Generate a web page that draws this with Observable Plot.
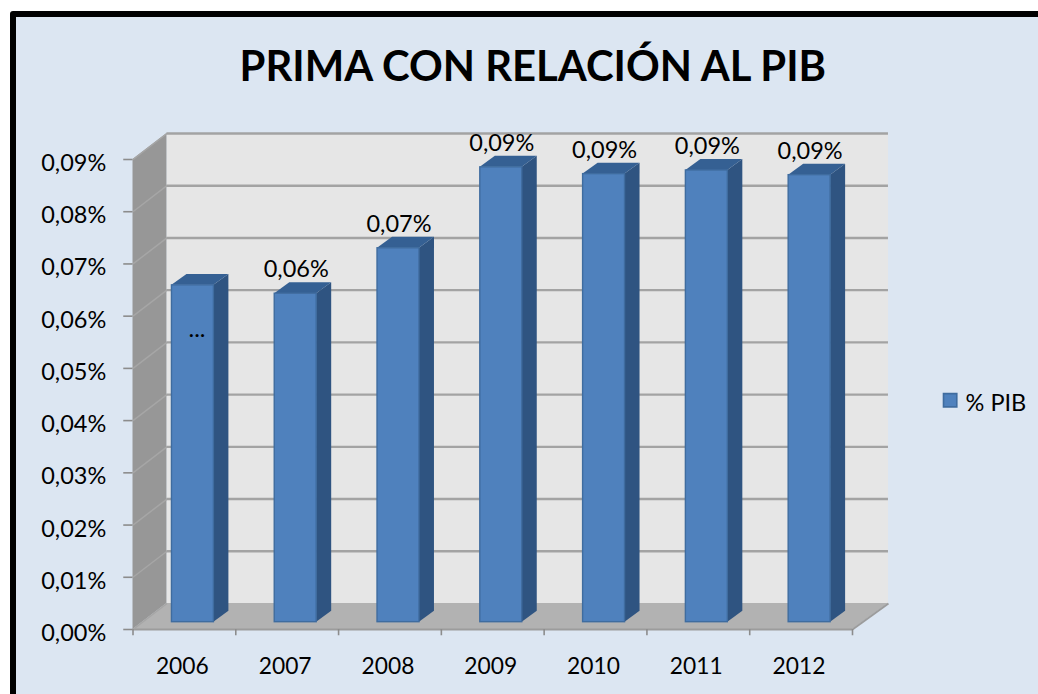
<!DOCTYPE html>
<html><head><meta charset="utf-8">
<script src="https://cdn.jsdelivr.net/npm/d3@7"></script>
<script src="https://cdn.jsdelivr.net/npm/@observablehq/plot@0.6"></script>
<style>
html,body{margin:0;padding:0;background:#fff;overflow:hidden;width:1038px;height:694px}
#panel{position:absolute;left:10px;top:11px;width:1040px;height:700px;background:#dce6f2;border:6px solid #000;border-radius:3px;box-sizing:border-box}
#chart{position:absolute;left:0;top:0}
svg{display:block;background:transparent!important}
</style></head><body>
<div id="panel"></div><div id="chart"></div>
<script>
const titleText = "PRIMA CON RELACIÓN AL PIB";
const years = [2006, 2007, 2008, 2009, 2010, 2011, 2012];
const values = [0.0645, 0.0629, 0.0716, 0.0871, 0.0858, 0.0865, 0.0856];
const labels = ["...", "0,06%", "0,07%", "0,09%", "0,09%", "0,09%", "0,09%"];
const yTicks = [0, 0.01, 0.02, 0.03, 0.04, 0.05, 0.06, 0.07, 0.08, 0.09];
const legendLabel = "% PIB";

// Depth of the 3D look, in data units
const wallDX = 0.33, wallDXr = 0.35, wallDY = 0.00498;
const barDX = 0.146, barDY = 0.0021, barBase = 0.0014;
const barCenter = 0.583, barHalf = 0.204;
const yMax = 0.09, nCat = years.length;
const fmt = d => d.toFixed(2).replace(".", ",") + "%";

const rows = years.map((year, i) => ({
  year, label: labels[i], value: values[i],
  x1: i + barCenter - barHalf, x2: i + barCenter + barHalf,
  top: values[i] + barBase
}));
const side = rows.flatMap(d => [
  {year: d.year, x: d.x2, y1: barBase, y2: d.top},
  {year: d.year, x: d.x2 + barDX, y1: barBase + barDY, y2: d.top + barDY}
]);
const tops = rows.flatMap(d => [
  {year: d.year, y: d.top, x1: d.x1, x2: d.x2},
  {year: d.year, y: d.top + barDY, x1: d.x1 + barDX, x2: d.x2 + barDX}
]);
const font = "Lato, 'Open Sans', sans-serif";
const blue = "#4f81bd", edge = "#3f6c9f";
const fs = 23.5;

const chart = Plot.plot({
  width: 1038, height: 694, margin: 0,
  style: {fontFamily: font, background: "transparent", overflow: "visible"},
  x: {type: "linear", domain: [0, nCat], range: [132.5, 852], axis: null},
  y: {type: "linear", domain: [0, yMax], range: [629, 159], axis: null},
  marks: [
    // back wall
    Plot.rect([0], {x1: wallDX, x2: nCat + wallDXr, y1: wallDY, y2: yMax + wallDY, fill: "#e6e6e6"}),
    Plot.ruleY(yTicks.slice(1), {y: d => d + wallDY, x1: wallDX, x2: nCat + wallDXr, stroke: "#a3a3a3", strokeWidth: 2.4}),
    // floor
    Plot.areaX([{y: 0, x1: 0, x2: nCat}, {y: wallDY, x1: wallDX, x2: nCat + wallDXr}],
      {y: "y", x1: "x1", x2: "x2", fill: "#b2b2b2"}),
    Plot.ruleY([0], {x1: 0, x2: nCat, stroke: "#9c9c9c", strokeWidth: 2}),
    Plot.link([0], {x1: nCat, y1: 0, x2: nCat + wallDXr, y2: wallDY, stroke: "#9c9c9c", strokeWidth: 2}),
    // side wall
    Plot.areaY([{x: 0, y1: 0, y2: yMax}, {x: wallDX, y1: wallDY, y2: yMax + wallDY}],
      {x: "x", y1: "y1", y2: "y2", fill: "#979797"}),
    Plot.link(yTicks, {x1: 0, y1: d => d, x2: wallDX, y2: d => d + wallDY, stroke: "#a6a6a6", strokeWidth: 1.5}),
    // axes
    Plot.ruleY(yTicks, {x1: -0.09, x2: 0, stroke: "#8c8c8c", strokeWidth: 1.6}),
    Plot.text(yTicks, {x: -0.26, y: d => d, text: fmt, textAnchor: "end", dy: 4, fontSize: fs, fill: "#000"}),
    Plot.ruleX(d3.range(nCat + 1), {x: d => d, y1: -0.0012, y2: 0, stroke: "#8c8c8c", strokeWidth: 1.6}),
    Plot.text(years, {x: (d, i) => i + 0.48, y: 0, text: d => String(d), dy: 37, fontSize: 22.8, fill: "#000"}),
    // bars
    Plot.areaY(side, {x: "x", y1: "y1", y2: "y2", z: "year", fill: "#2f5481"}),
    Plot.areaX(tops, {y: "y", x1: "x1", x2: "x2", z: "year", fill: "#356093"}),
    Plot.rect(rows, {x1: "x1", x2: "x2", y1: barBase, y2: "top", fill: blue, stroke: edge, strokeWidth: 1.4}),
    // data labels
    Plot.text(rows.filter(d => d.label !== "..."), {x: d => d.x1 + barHalf + 0.005, y: "top", text: "label",
      dy: -24, fontSize: fs, fill: "#000"}),
    Plot.text(rows.filter(d => d.label === "..."), {x: d => d.x1 + barHalf + 0.04, y: "top", text: "label",
      dy: 44, fontSize: 24, fill: "#000"}),
    // legend
    Plot.dot([legendLabel], {x: 7.95, y: 0.0439, symbol: "square", r: 7.5, fill: blue, stroke: edge, strokeWidth: 1.6}),
    Plot.text([legendLabel], {x: 8.1, y: 0.0432, text: d => d, textAnchor: "start", fontSize: fs, fill: "#000"}),
    // title
    Plot.text([titleText], {x: 3.89, y: 0.1076, text: d => d, fontSize: 41.8, fontWeight: 700, fill: "#000"})
  ]
});
document.getElementById("chart").append(chart);
</script>
</body></html>
